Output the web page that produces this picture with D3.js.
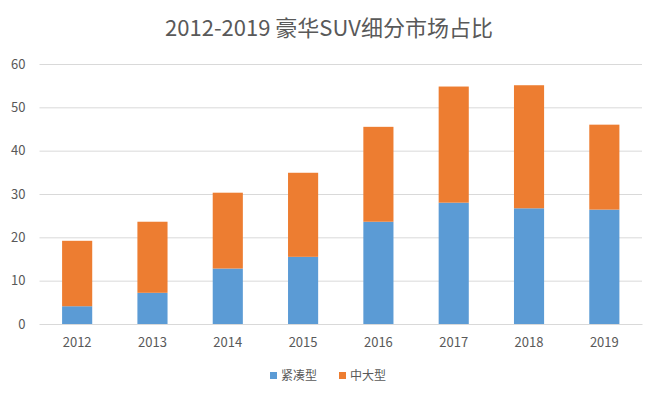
<!DOCTYPE html>
<html>
<head>
<meta charset="utf-8">
<script src="https://cdn.jsdelivr.net/npm/d3@7"></script>
<style>
  body { margin: 0; background: #fff; }
  text { font-family: "Noto Sans CJK SC", "Open Sans", sans-serif; fill: #595959; }
</style>
</head>
<body>
<div class="chart"></div>
<script>
// chart data
var years = ["2012", "2013", "2014", "2015", "2016", "2017", "2018", "2019"];
var compact = [4.1, 7.2, 12.8, 15.5, 23.6, 28.0, 26.7, 26.4];
var midLarge = [15.1, 16.4, 17.5, 19.4, 21.9, 26.8, 28.4, 19.6];
var seriesNames = ["紧凑型", "中大型"];
var yTicks = [0, 10, 20, 30, 40, 50, 60];
var title = "2012-2019 豪华SUV细分市场占比";

var colors = ["#5b9bd5", "#ed7d31"];

var svgWidth = 645;
var svgHeight = 397;

var margin = { top: 64, right: 3, bottom: 73, left: 39.5 };
var width = svgWidth - margin.left - margin.right;
var height = svgHeight - margin.top - margin.bottom;

var svg = d3.select(".chart")
  .append("svg")
  .attr("width", svgWidth)
  .attr("height", svgHeight);

var chartGroup = svg.append("g")
  .attr("transform", `translate(${margin.left}, ${margin.top})`);

// build stacked table
var table = years.map(function (y, i) {
  return { year: y, a: compact[i], b: midLarge[i] };
});
var stacked = d3.stack().keys(["a", "b"])(table);

var xScale = d3.scaleBand()
  .domain(years)
  .range([0, width])
  .paddingInner(0.6)
  .paddingOuter(0.3);

var yScale = d3.scaleLinear()
  .domain([0, 60])
  .range([height, 0]);

// gridlines + y labels
var leftAxis = d3.axisLeft(yScale)
  .tickValues(yTicks)
  .tickSize(-width)
  .tickPadding(14);

var yAxisG = chartGroup.append("g").call(leftAxis);
yAxisG.select(".domain").remove();
yAxisG.selectAll(".tick line").attr("stroke", "#d9d9d9");
yAxisG.selectAll(".tick text")
  .attr("font-size", "13px")
  .attr("fill", "#595959");

// bars
chartGroup.selectAll(".series")
  .data(stacked)
  .enter()
  .append("g")
  .attr("fill", (d, i) => colors[i])
  .selectAll("rect")
  .data(d => d)
  .enter()
  .append("rect")
  .attr("x", d => xScale(d.data.year))
  .attr("y", d => yScale(d[1]))
  .attr("width", xScale.bandwidth())
  .attr("height", d => yScale(d[0]) - yScale(d[1]));

// x axis
var bottomAxis = d3.axisBottom(xScale).tickSize(0).tickPadding(14);
var xAxisG = chartGroup.append("g")
  .attr("transform", `translate(0, ${height})`)
  .call(bottomAxis);
xAxisG.select(".domain").attr("stroke", "#d9d9d9");
xAxisG.selectAll(".tick text")
  .attr("font-size", "13px")
  .attr("fill", "#595959");

// title
svg.append("text")
  .attr("x", 329)
  .attr("y", 36)
  .attr("text-anchor", "middle")
  .attr("font-size", "22px")
  .text(title);

// legend
var legendX = [270, 339];
var legend = svg.selectAll(".legend")
  .data(seriesNames)
  .enter()
  .append("g")
  .attr("transform", (d, i) => `translate(${legendX[i]}, 372)`);

legend.append("rect")
  .attr("width", 7)
  .attr("height", 7)
  .attr("fill", (d, i) => colors[i]);

legend.append("text")
  .attr("x", 11)
  .attr("y", 8)
  .attr("font-size", "12px")
  .text(d => d);
</script>
</body>
</html>
